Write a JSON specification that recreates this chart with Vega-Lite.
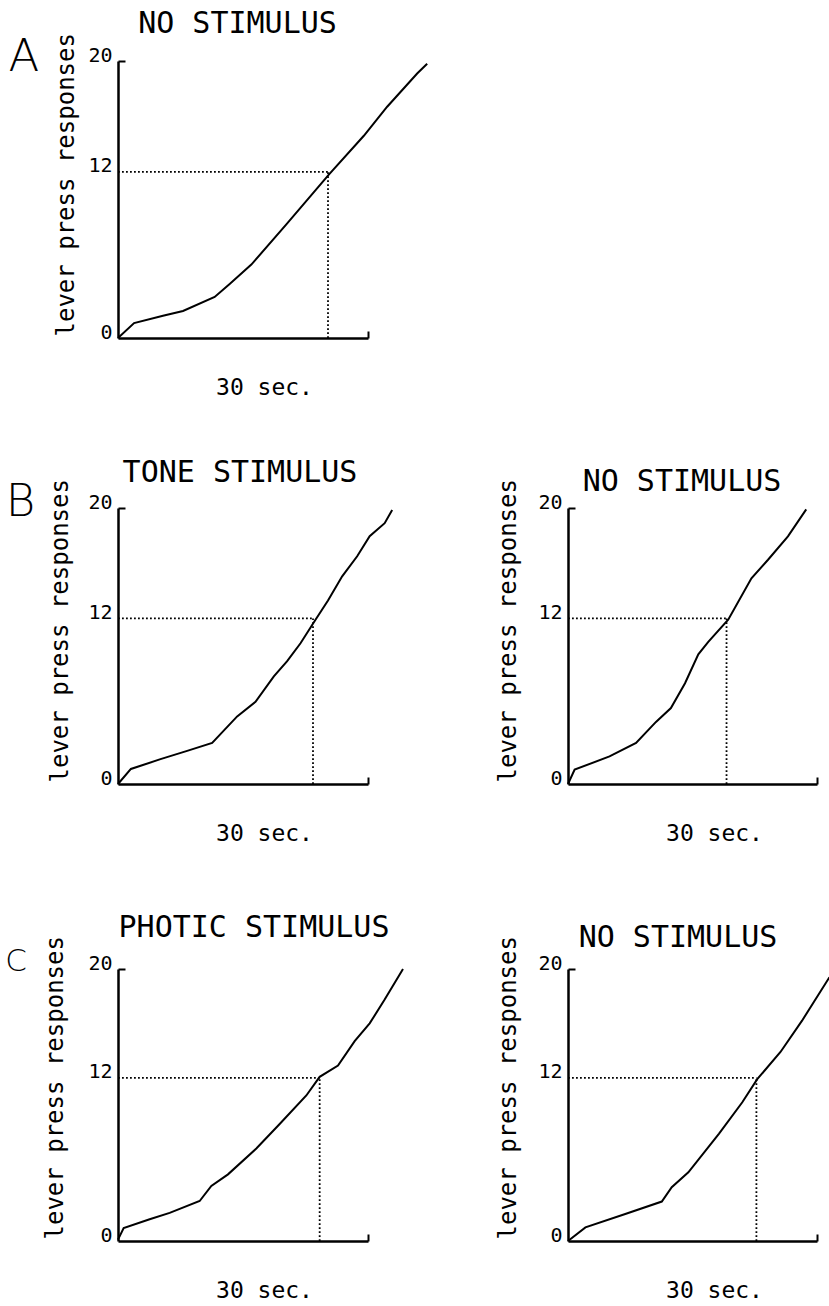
{
  "$schema": "https://vega.github.io/schema/vega-lite/v6.json",
  "background": "white",
  "padding": {"left": 5, "top": 8, "right": 0, "bottom": 0},
  "bounds": "flush",
  "spacing": 170,
  "config": {
    "view": {"stroke": null},
    "axis": {"grid": false, "domainColor": "black", "domainWidth": 2.5, "tickColor": "black", "tickWidth": 2, "labelColor": "black", "labelFont": "DejaVu Sans Mono", "labelFontSize": 20, "titleFont": "DejaVu Sans Mono", "titleFontWeight": "normal", "titleColor": "black"},
    "axisX": {"labels": false, "tickSize": -7, "titleFontSize": 23, "titleX": 146, "titleY": 56, "titleBaseline": "alphabetic", "titleAlign": "center"},
    "axisY": {"tickSize": -7, "labelPadding": 13, "labelBaseline": "alphabetic", "titleFontSize": 24, "titleAngle": -90, "titleAlign": "left", "titleBaseline": "alphabetic"},
    "title": {"font": "DejaVu Sans Mono", "fontSize": 30, "fontWeight": "normal", "color": "black", "frame": "group", "anchor": "middle", "baseline": "alphabetic"}
  },
  "datasets": {
    "curves": [
      {"panel": "A", "t": 0, "responses": 0}, {"panel": "A", "t": 1.93, "responses": 1.08}, {"panel": "A", "t": 5.4, "responses": 1.6}, {"panel": "A", "t": 7.8, "responses": 1.95}, {"panel": "A", "t": 11.6, "responses": 2.96}, {"panel": "A", "t": 13.4, "responses": 3.9}, {"panel": "A", "t": 16.0, "responses": 5.3}, {"panel": "A", "t": 20.2, "responses": 8.2}, {"panel": "A", "t": 25.3, "responses": 11.8}, {"panel": "A", "t": 29.5, "responses": 14.6}, {"panel": "A", "t": 32.3, "responses": 16.7}, {"panel": "A", "t": 35.9, "responses": 19.1}, {"panel": "A", "t": 37.1, "responses": 19.8},
      {"panel": "BL", "t": 0, "responses": 0}, {"panel": "BL", "t": 1.55, "responses": 1.09}, {"panel": "BL", "t": 5.1, "responses": 1.8}, {"panel": "BL", "t": 8.3, "responses": 2.4}, {"panel": "BL", "t": 11.3, "responses": 2.98}, {"panel": "BL", "t": 14.3, "responses": 4.9}, {"panel": "BL", "t": 16.5, "responses": 5.96}, {"panel": "BL", "t": 18.7, "responses": 7.8}, {"panel": "BL", "t": 20.3, "responses": 8.9}, {"panel": "BL", "t": 21.9, "responses": 10.2}, {"panel": "BL", "t": 23.7, "responses": 11.9}, {"panel": "BL", "t": 25.2, "responses": 13.3}, {"panel": "BL", "t": 26.9, "responses": 15.05}, {"panel": "BL", "t": 28.7, "responses": 16.5}, {"panel": "BL", "t": 30.2, "responses": 17.96}, {"panel": "BL", "t": 32.0, "responses": 18.9}, {"panel": "BL", "t": 32.9, "responses": 19.85},
      {"panel": "BR", "t": 0, "responses": 0}, {"panel": "BR", "t": 0.8, "responses": 1.04}, {"panel": "BR", "t": 5.0, "responses": 2.0}, {"panel": "BR", "t": 8.2, "responses": 2.97}, {"panel": "BR", "t": 10.6, "responses": 4.5}, {"panel": "BR", "t": 12.4, "responses": 5.5}, {"panel": "BR", "t": 14.1, "responses": 7.3}, {"panel": "BR", "t": 15.7, "responses": 9.4}, {"panel": "BR", "t": 16.9, "responses": 10.3}, {"panel": "BR", "t": 19.3, "responses": 11.9}, {"panel": "BR", "t": 22.1, "responses": 14.9}, {"panel": "BR", "t": 24.1, "responses": 16.25}, {"panel": "BR", "t": 26.5, "responses": 17.95}, {"panel": "BR", "t": 28.7, "responses": 19.9},
      {"panel": "CL", "t": 0, "responses": 0.1}, {"panel": "CL", "t": 0.68, "responses": 0.96}, {"panel": "CL", "t": 3.8, "responses": 1.6}, {"panel": "CL", "t": 6.2, "responses": 2.07}, {"panel": "CL", "t": 9.8, "responses": 2.94}, {"panel": "CL", "t": 11.2, "responses": 4.05}, {"panel": "CL", "t": 13.2, "responses": 4.9}, {"panel": "CL", "t": 16.6, "responses": 6.8}, {"panel": "CL", "t": 19.4, "responses": 8.6}, {"panel": "CL", "t": 22.6, "responses": 10.7}, {"panel": "CL", "t": 24.2, "responses": 12.07}, {"panel": "CL", "t": 26.4, "responses": 12.9}, {"panel": "CL", "t": 28.4, "responses": 14.7}, {"panel": "CL", "t": 30.2, "responses": 16.0}, {"panel": "CL", "t": 32.0, "responses": 17.75}, {"panel": "CL", "t": 34.2, "responses": 20.0},
      {"panel": "CR", "t": 0, "responses": 0}, {"panel": "CR", "t": 2.1, "responses": 1.0}, {"panel": "CR", "t": 6.9, "responses": 1.99}, {"panel": "CR", "t": 11.3, "responses": 2.9}, {"panel": "CR", "t": 12.5, "responses": 3.95}, {"panel": "CR", "t": 14.5, "responses": 5.05}, {"panel": "CR", "t": 18.2, "responses": 7.9}, {"panel": "CR", "t": 21.0, "responses": 10.2}, {"panel": "CR", "t": 22.8, "responses": 11.9}, {"panel": "CR", "t": 25.6, "responses": 13.9}, {"panel": "CR", "t": 28.2, "responses": 16.2}, {"panel": "CR", "t": 31.5, "responses": 19.4}
    ],
    "cross": [
      {"panel": "A", "seg": "h", "t": 0, "responses": 12}, {"panel": "A", "seg": "h", "t": 25.2, "responses": 12}, {"panel": "A", "seg": "v", "t": 25.2, "responses": 0}, {"panel": "A", "seg": "v", "t": 25.2, "responses": 12},
      {"panel": "BL", "seg": "h", "t": 0, "responses": 12}, {"panel": "BL", "seg": "h", "t": 23.4, "responses": 12}, {"panel": "BL", "seg": "v", "t": 23.4, "responses": 0}, {"panel": "BL", "seg": "v", "t": 23.4, "responses": 12},
      {"panel": "BR", "seg": "h", "t": 0, "responses": 12}, {"panel": "BR", "seg": "h", "t": 19.1, "responses": 12}, {"panel": "BR", "seg": "v", "t": 19.1, "responses": 0}, {"panel": "BR", "seg": "v", "t": 19.1, "responses": 12},
      {"panel": "CL", "seg": "h", "t": 0, "responses": 12}, {"panel": "CL", "seg": "h", "t": 24.2, "responses": 12}, {"panel": "CL", "seg": "v", "t": 24.2, "responses": 0}, {"panel": "CL", "seg": "v", "t": 24.2, "responses": 12},
      {"panel": "CR", "seg": "h", "t": 0, "responses": 12}, {"panel": "CR", "seg": "h", "t": 22.7, "responses": 12}, {"panel": "CR", "seg": "v", "t": 22.7, "responses": 0}, {"panel": "CR", "seg": "v", "t": 22.7, "responses": 12}
    ],
    "letters": [
      {"panel": "A", "letter": "A"},
      {"panel": "BL", "letter": "B"},
      {"panel": "CL", "letter": "C"}
    ]
  },
  "vconcat": [
    {
      "width": 250, "height": 277,
      "title": {"text": "NO STIMULUS", "dx": -5.5, "offset": -6},
      "layer": [
        {"data": {"name": "curves"}, "transform": [{"filter": "datum.panel === 'A'"}],
         "mark": {"type": "line", "color": "black", "strokeWidth": 2},
         "encoding": {
           "x": {"field": "t", "type": "quantitative", "scale": {"domain": [0, 30], "nice": false}, "axis": {"values": [30], "title": "30 sec."}},
           "y": {"field": "responses", "type": "quantitative", "scale": {"domain": [0, 20], "nice": false}, "axis": {"values": [0, 12, 20], "title": "lever press responses", "titleX": -45, "titleY": 275, "tickOpacity": {"condition": {"test": "datum.value === 20", "value": 1}, "value": 0}}}
         }},
        {"data": {"name": "cross"}, "transform": [{"filter": "datum.panel === 'A'"}],
         "mark": {"type": "line", "color": "black", "strokeWidth": 1.8, "strokeDash": [1.8, 2.2]},
         "encoding": {"x": {"field": "t", "type": "quantitative"}, "y": {"field": "responses", "type": "quantitative"}, "detail": {"field": "seg", "type": "nominal"}}},
        {"data": {"name": "letters"}, "transform": [{"filter": "datum.panel === 'A'"}],
         "mark": {"type": "text", "font": "DejaVu Sans", "fontWeight": 200, "fontSize": 45, "align": "center", "baseline": "alphabetic", "color": "black"},
         "encoding": {"text": {"field": "letter", "type": "nominal"}, "x": {"datum": -11.28, "type": "quantitative"}, "y": {"datum": 19.28, "type": "quantitative"}}}
      ]
    },
    {
      "spacing": 461,
      "bounds": "flush",
      "vconcat": [
        {
          "spacing": 200,
          "bounds": "flush",
          "hconcat": [
            {
              "width": 250, "height": 276,
              "title": {"text": "TONE STIMULUS", "dx": -3, "offset": -9},
              "layer": [
                {"data": {"name": "curves"}, "transform": [{"filter": "datum.panel === 'BL'"}],
                 "mark": {"type": "line", "color": "black", "strokeWidth": 2},
                 "encoding": {
                   "x": {"field": "t", "type": "quantitative", "scale": {"domain": [0, 30], "nice": false}, "axis": {"values": [30], "title": "30 sec."}},
                   "y": {"field": "responses", "type": "quantitative", "scale": {"domain": [0, 20], "nice": false}, "axis": {"values": [0, 12, 20], "title": "lever press responses", "titleX": -51, "titleY": 274, "tickOpacity": {"condition": {"test": "datum.value === 20", "value": 1}, "value": 0}}}
                 }},
                {"data": {"name": "cross"}, "transform": [{"filter": "datum.panel === 'BL'"}],
                 "mark": {"type": "line", "color": "black", "strokeWidth": 1.8, "strokeDash": [1.8, 2.2]},
                 "encoding": {"x": {"field": "t", "type": "quantitative"}, "y": {"field": "responses", "type": "quantitative"}, "detail": {"field": "seg", "type": "nominal"}}},
                {"data": {"name": "letters"}, "transform": [{"filter": "datum.panel === 'BL'"}],
                 "mark": {"type": "text", "font": "DejaVu Sans", "fontWeight": 200, "fontSize": 45, "align": "center", "baseline": "alphabetic", "color": "black"},
                 "encoding": {"text": {"field": "letter", "type": "nominal"}, "x": {"datum": -11.7, "type": "quantitative"}, "y": {"datum": 19.42, "type": "quantitative"}}}
              ]
            },
            {
              "width": 249, "height": 276,
              "title": {"text": "NO STIMULUS", "dx": -10.5, "offset": -18},
              "layer": [
                {"data": {"name": "curves"}, "transform": [{"filter": "datum.panel === 'BR'"}],
                 "mark": {"type": "line", "color": "black", "strokeWidth": 2},
                 "encoding": {
                   "x": {"field": "t", "type": "quantitative", "scale": {"domain": [0, 30], "nice": false}, "axis": {"values": [30], "title": "30 sec."}},
                   "y": {"field": "responses", "type": "quantitative", "scale": {"domain": [0, 20], "nice": false}, "axis": {"values": [0, 12, 20], "title": "lever press responses", "titleX": -53, "titleY": 274, "tickOpacity": {"condition": {"test": "datum.value === 20", "value": 1}, "value": 0}}}
                 }},
                {"data": {"name": "cross"}, "transform": [{"filter": "datum.panel === 'BR'"}],
                 "mark": {"type": "line", "color": "black", "strokeWidth": 1.8, "strokeDash": [1.8, 2.2]},
                 "encoding": {"x": {"field": "t", "type": "quantitative"}, "y": {"field": "responses", "type": "quantitative"}, "detail": {"field": "seg", "type": "nominal"}}}
              ]
            }
          ]
        },
        {
          "spacing": 200,
          "bounds": "flush",
          "hconcat": [
            {
              "width": 250, "height": 272,
              "title": {"text": "PHOTIC STIMULUS", "dx": 11, "offset": -7},
              "layer": [
                {"data": {"name": "curves"}, "transform": [{"filter": "datum.panel === 'CL'"}],
                 "mark": {"type": "line", "color": "black", "strokeWidth": 2},
                 "encoding": {
                   "x": {"field": "t", "type": "quantitative", "scale": {"domain": [0, 30], "nice": false}, "axis": {"values": [30], "title": "30 sec."}},
                   "y": {"field": "responses", "type": "quantitative", "scale": {"domain": [0, 20], "nice": false}, "axis": {"values": [0, 12, 20], "title": "lever press responses", "titleX": -56, "titleY": 270, "tickOpacity": {"condition": {"test": "datum.value === 20", "value": 1}, "value": 0}}}
                 }},
                {"data": {"name": "cross"}, "transform": [{"filter": "datum.panel === 'CL'"}],
                 "mark": {"type": "line", "color": "black", "strokeWidth": 1.8, "strokeDash": [1.8, 2.2]},
                 "encoding": {"x": {"field": "t", "type": "quantitative"}, "y": {"field": "responses", "type": "quantitative"}, "detail": {"field": "seg", "type": "nominal"}}},
                {"data": {"name": "letters"}, "transform": [{"filter": "datum.panel === 'CL'"}],
                 "mark": {"type": "text", "font": "DejaVu Sans", "fontWeight": 200, "fontSize": 31, "align": "center", "baseline": "alphabetic", "color": "black"},
                 "encoding": {"text": {"field": "letter", "type": "nominal"}, "x": {"datum": -12.24, "type": "quantitative"}, "y": {"datum": 19.85, "type": "quantitative"}}}
              ]
            },
            {
              "width": 249, "height": 272,
              "title": {"text": "NO STIMULUS", "dx": -14.5, "offset": -17},
              "layer": [
                {"data": {"name": "curves"}, "transform": [{"filter": "datum.panel === 'CR'"}],
                 "mark": {"type": "line", "color": "black", "strokeWidth": 2},
                 "encoding": {
                   "x": {"field": "t", "type": "quantitative", "scale": {"domain": [0, 30], "nice": false}, "axis": {"values": [30], "title": "30 sec."}},
                   "y": {"field": "responses", "type": "quantitative", "scale": {"domain": [0, 20], "nice": false}, "axis": {"values": [0, 12, 20], "title": "lever press responses", "titleX": -53, "titleY": 270, "tickOpacity": {"condition": {"test": "datum.value === 20", "value": 1}, "value": 0}}}
                 }},
                {"data": {"name": "cross"}, "transform": [{"filter": "datum.panel === 'CR'"}],
                 "mark": {"type": "line", "color": "black", "strokeWidth": 1.8, "strokeDash": [1.8, 2.2]},
                 "encoding": {"x": {"field": "t", "type": "quantitative"}, "y": {"field": "responses", "type": "quantitative"}, "detail": {"field": "seg", "type": "nominal"}}}
              ]
            }
          ]
        }
      ]
    }
  ]
}
